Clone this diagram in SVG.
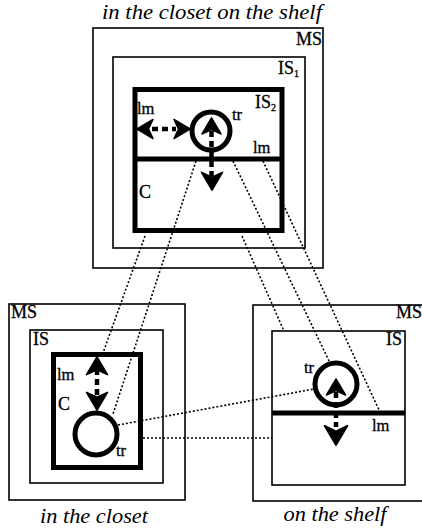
<svg xmlns="http://www.w3.org/2000/svg" xmlns:xlink="http://www.w3.org/1999/xlink" width="422" height="530" viewBox="0 0 422 530">
<style>
.bg{fill:#fff}
.thin{fill:none;stroke:#000;stroke-width:1.6}
.thick{fill:none;stroke:#000;stroke-width:5}
.ring{fill:#fff;stroke:#000;stroke-width:5}
.dash{fill:none;stroke:#000;stroke-width:4.5;stroke-dasharray:6,4}
.dot{fill:none;stroke:#000;stroke-width:1.6;stroke-dasharray:2,2}
.lab{font-family:"Liberation Serif",serif;font-size:18px;fill:#000;stroke:#000;stroke-width:0.3}
.sm{font-family:"Liberation Serif",serif;font-size:16.5px;fill:#000;stroke:#000;stroke-width:0.3}
.ttl{font-family:"Liberation Serif",serif;font-style:italic;font-size:20px;fill:#000}
.ah{fill:#000;stroke:#000;stroke-width:1.5;stroke-linejoin:round}
</style>
<defs>
<path id="ah" class="ah" d="M0,0 L9.5,16 L0,11.5 L-9.5,16 Z"/>
</defs>
<rect class="bg" x="0" y="0" width="422" height="530"/>

<g id="titles">
<text class="ttl" x="212" y="19" text-anchor="middle" textLength="220" lengthAdjust="spacingAndGlyphs">in the closet on the shelf</text>
<text class="ttl" x="94" y="523" text-anchor="middle" textLength="108" lengthAdjust="spacingAndGlyphs">in the closet</text>
<text class="ttl" x="335" y="521" text-anchor="middle" textLength="103" lengthAdjust="spacingAndGlyphs">on the shelf</text>
</g>

<g id="connectors">
<line class="dot" x1="196" y1="161" x2="113" y2="414"/>
<line class="dot" x1="145" y1="236" x2="103" y2="353"/>
<line class="dot" x1="233" y1="161" x2="330" y2="363"/>
<line class="dot" x1="242" y1="236" x2="284" y2="331"/>
<line class="dot" x1="263" y1="161" x2="380" y2="412"/>
<line class="dot" x1="118" y1="425" x2="314" y2="389"/>
<line class="dot" x1="143" y1="438" x2="272" y2="438"/>
</g>

<g id="top-scene">
<g id="top-MS">
<rect class="thin" x="93" y="28" width="230" height="240"/>
<text class="lab" x="296" y="45">MS</text>
</g>
<g id="top-IS1">
<rect class="thin" x="113" y="57" width="192" height="191"/>
<text class="lab" x="278" y="74">IS<tspan font-size="10" dy="3">1</tspan></text>
</g>
<g id="top-IS2-C">
<rect class="thick" x="135" y="89.5" width="147" height="141"/>
<line class="thick" x1="135" y1="159" x2="282" y2="159"/>
<text class="lab" x="255" y="108">IS<tspan font-size="10" dy="3">2</tspan></text>
<text class="sm" x="137" y="114">lm</text>
<text class="sm" x="253" y="153">lm</text>
<text class="lab" x="139" y="198">C</text>
</g>
<g id="top-tr">
<circle class="ring" cx="211" cy="131" r="19"/>
<text class="sm" x="232" y="120">tr</text>
<line class="dash" x1="152" y1="129" x2="176" y2="129"/>
<use xlink:href="#ah" transform="translate(137,129) rotate(-90)"/>
<use xlink:href="#ah" transform="translate(190,129) rotate(90)"/>
<line class="dash" x1="211.5" y1="131" x2="211.5" y2="176"/>
<use xlink:href="#ah" transform="translate(211.5,118)"/>
<use xlink:href="#ah" transform="translate(212,190) rotate(180) scale(1.1)"/>
</g>
</g>

<g id="left-scene">
<g id="left-MS">
<rect class="thin" x="9" y="304" width="176" height="196"/>
<text class="lab" x="11" y="318">MS</text>
</g>
<g id="left-IS">
<rect class="thin" x="30" y="330" width="133" height="153"/>
<text class="lab" x="33" y="345">IS</text>
</g>
<g id="left-C">
<rect class="thick" x="53.5" y="354.5" width="87" height="113"/>
<text class="sm" x="57" y="380">lm</text>
<text class="lab" x="58" y="410">C</text>
</g>
<g id="left-tr">
<circle class="ring" cx="96" cy="434" r="21"/>
<text class="sm" x="116" y="456">tr</text>
<line class="dash" x1="97" y1="369" x2="97" y2="397"/>
<use xlink:href="#ah" transform="translate(97,357) scale(1.1)"/>
<use xlink:href="#ah" transform="translate(97,410) rotate(180) scale(1.1)"/>
</g>
</g>

<g id="right-scene">
<g id="right-MS">
<rect class="thin" x="253" y="305" width="175" height="196"/>
<text class="lab" x="396" y="318">MS</text>
</g>
<g id="right-IS">
<rect class="thin" x="272" y="331" width="133" height="154"/>
<line class="thick" x1="272" y1="413" x2="405" y2="413"/>
<text class="lab" x="386" y="345">IS</text>
<text class="sm" x="372" y="431">lm</text>
</g>
<g id="right-tr">
<circle class="ring" cx="336" cy="384" r="21"/>
<text class="sm" x="304" y="373">tr</text>
<line class="dash" x1="336" y1="392" x2="336" y2="427"/>
<use xlink:href="#ah" transform="translate(336,379)"/>
<use xlink:href="#ah" transform="translate(336,445) rotate(180) scale(1.2)"/>
</g>
</g>
</svg>
